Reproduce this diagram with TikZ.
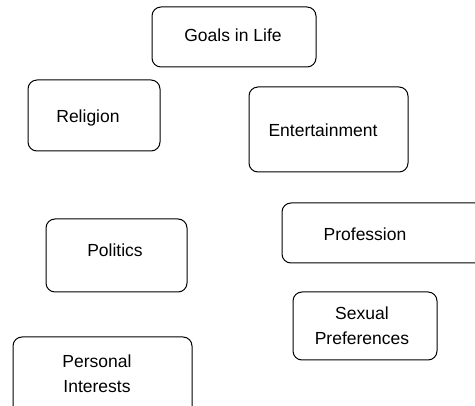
\documentclass[tikz,border=0pt]{standalone}
\usepackage{fontspec}
\setmainfont{Liberation Sans}
\begin{document}
\begin{tikzpicture}[x=1pt,y=-1pt,
  box/.style={draw=black, line width=1pt, rounded corners=9pt},
  lbl/.style={inner sep=0pt, font=\fontsize{17.5}{25}\selectfont, align=center}]
\useasboundingbox (0,0) rectangle (475,406);
\clip (0,0) rectangle (475,406);
% boxes
\draw[box] (152,7) rectangle (316,67);
\draw[box] (28,80) rectangle (160,151);
\draw[box] (249,87) rectangle (408,172);
\draw[box] (46,219) rectangle (187,292);
\draw[box] (282,203) rectangle (500,263);
\draw[box] (293,292) rectangle (437,360);
\draw[box] (13,337) rectangle (192,416);
% labels
\node[lbl, anchor=base] (goals) at (233,42) {Goals in Life};
\node[lbl, anchor=base] (religion) at (88,123) {Religion};
\node[lbl, anchor=base] (entertainment) at (323,137) {Entertainment};
\node[lbl, anchor=base] (politics) at (115,257) {Politics};
\node[lbl, anchor=base] (profession) at (365,241) {Profession};
\node[lbl] (sexual) at (362,326) {Sexual\\Preferences};
\node[lbl] (personal) at (97,374) {Personal\\Interests};
\end{tikzpicture}
\end{document}
